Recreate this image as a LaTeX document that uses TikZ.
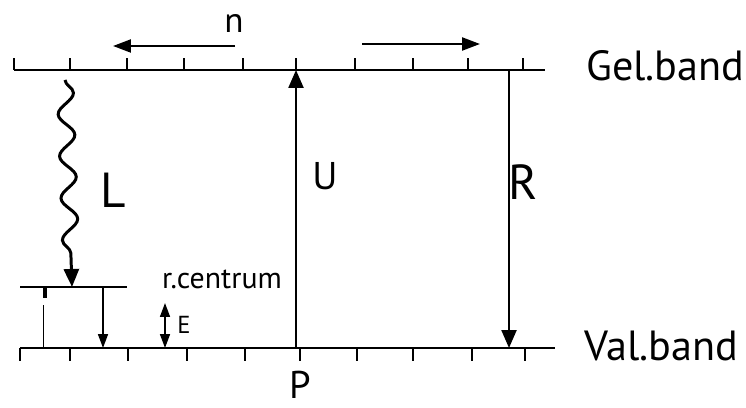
\documentclass[tikz,border=0pt]{standalone}
\usepackage{fontspec}
\setmainfont{PT Sans}
\usetikzlibrary{arrows.meta,decorations.pathmorphing}

\begin{document}
\begin{tikzpicture}[
  x=.02cm,y=-.02cm,
  every node/.style={font=\fontsize{24}{28}\selectfont},
  band/.style={line width=1.6pt},
  tick/.style={line width=1.2pt},
  tip/.style={line width=1.3pt,-{Triangle[length=.36cm,width=.3cm]}},
  smalltip/.style={line width=.9pt,-{Triangle[length=.28cm,width=.2cm]}},
  wave/.style={line width=1.7pt,decorate,decoration={snake,amplitude=.16cm,segment length=.84cm,post length=.3cm}}
]
\useasboundingbox (0,0) rectangle (746,408);
\coordinate (gl) at (14,70);
\coordinate (gr) at (545,70);
\coordinate (vl) at (20,348);
\coordinate (vr) at (555,348);
\draw[band] (gl) -- (gr);
\draw[band] (vl) -- (vr);
\foreach \x in {14,70,127,184,243,296,355,413,468,523} {
  \draw[tick] (\x,70) -- ++(0,-12);
}
\foreach \x in {20,70,128,187,245,300,357,413,472,525} {
  \draw[tick] (\x,348) -- ++(0,13);
}
\node[anchor=west] (gel) at (580,66) {Gel.band};
\node[anchor=west] (val) at (578,346) {Val.band};
\coordinate (nl0) at (235,46);
\coordinate (nl1) at (113,46);
\coordinate (nr0) at (362,44);
\coordinate (nr1) at (480,44);
\draw[tip,-{Triangle[length=.36cm,width=.26cm]}] (nl0) -- (nl1);
\draw[tip,-{Triangle[length=.36cm,width=.26cm]}] (nr0) -- (nr1);
\node[font=\fontsize{20}{24}\selectfont] (n) at (234,24) {n};
\coordinate (u0) at (296,348);
\coordinate (u1) at (296,70);
\draw[tip] (u0) -- (u1);
\node[font=\fontsize{22}{26}\selectfont] (U) at (325,176) {U};
\coordinate (r0) at (509,70);
\coordinate (r1) at (509,348);
\draw[tip] (r0) -- (r1);
\node[font=\fontsize{28}{32}\selectfont] (R) at (523,182) {R};
\coordinate (cl) at (20,287);
\coordinate (cr) at (127,287);
\draw[band] (cl) -- (cr);
\draw[line width=2.5pt] (45,288) -- (45,298);
\coordinate (w0) at (65,80);
\coordinate (w1) at (72,287);
\draw[wave,-{Triangle[length=.36cm,width=.3cm]}] (w0) -- (w1);
\node[font=\fontsize{28}{32}\selectfont] (L) at (113,190) {L};
\coordinate (t0) at (43,305);
\coordinate (t1) at (43,348);
\draw[line width=.5pt] (t0) -- (t1);
\coordinate (d0) at (103,287);
\coordinate (d1) at (103,348);
\draw[smalltip] (d0) -- (d1);
\coordinate (e0) at (165,303);
\coordinate (e1) at (165,348);
\draw[smalltip,{Triangle[length=.28cm,width=.2cm]}-{Triangle[length=.28cm,width=.2cm]}] (e0) -- (e1);
\node[font=\fontsize{14}{16}\selectfont] (E) at (184,325) {E};
\node[font=\fontsize{17}{20}\selectfont] (rc) at (222,279) {r.centrum};
\node[font=\fontsize{22}{26}\selectfont] (P) at (300,385) {P};
\end{tikzpicture}
\end{document}
